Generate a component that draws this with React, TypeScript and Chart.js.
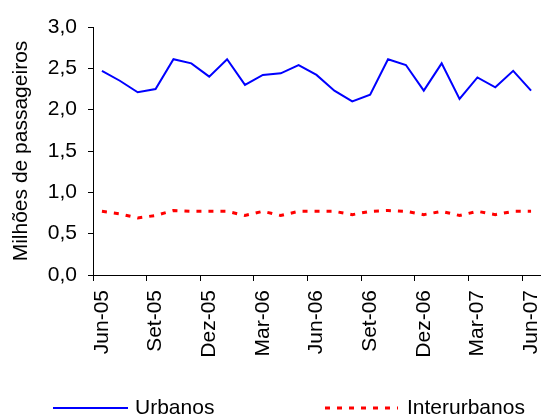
import React, { useEffect, useRef } from "react";
import { Chart, registerables } from "chart.js";

Chart.register(...registerables);

// Monthly periods, June 2005 – June 2007
const months = [
  "Jun-05", "Jul-05", "Ago-05", "Set-05", "Out-05", "Nov-05", "Dez-05",
  "Jan-06", "Fev-06", "Mar-06", "Abr-06", "Mai-06", "Jun-06", "Jul-06",
  "Ago-06", "Set-06", "Out-06", "Nov-06", "Dez-06", "Jan-07", "Fev-07",
  "Mar-07", "Abr-07", "Mai-07", "Jun-07",
];

// Passengers (millions)
const urbanos = [
  2.47, 2.35, 2.21, 2.25, 2.61, 2.56, 2.40, 2.61, 2.30, 2.42, 2.44, 2.54, 2.42,
  2.23, 2.10, 2.18, 2.61, 2.54, 2.23, 2.56, 2.13, 2.39, 2.27, 2.47, 2.23,
];
const interurbanos = [
  0.77, 0.74, 0.69, 0.72, 0.78, 0.77, 0.77, 0.77, 0.72, 0.77, 0.72, 0.77, 0.77,
  0.77, 0.73, 0.77, 0.78, 0.77, 0.73, 0.77, 0.72, 0.77, 0.73, 0.77, 0.77,
];

const yTicks = [0, 0.5, 1, 1.5, 2, 2.5, 3];

const FONT = "'Liberation Sans', Arial, sans-serif";
const FONT_SIZE = 21;

// Legend drawn below the axis: a line sample followed by the series name
const legendPlugin = {
  id: "bottomLegend",
  afterDraw(chart: any) {
    const ctx = chart.ctx;
    const y = 408;
    const slots = [
      { x0: 53, x1: 128, tx: 135 },
      { x0: 325, x1: 398, tx: 407 },
    ];
    chart.data.datasets.forEach((ds: any, i: number) => {
      const s = slots[i];
      ctx.save();
      ctx.strokeStyle = ds.borderColor;
      ctx.lineWidth = ds.borderWidth;
      ctx.setLineDash(ds.borderDash || []);
      ctx.beginPath();
      ctx.moveTo(s.x0, y);
      ctx.lineTo(s.x1, y);
      ctx.stroke();
      ctx.setLineDash([]);
      ctx.fillStyle = "#000";
      ctx.font = `${FONT_SIZE}px ${FONT}`;
      ctx.textAlign = "left";
      ctx.textBaseline = "middle";
      ctx.fillText(ds.label, s.tx, y);
      ctx.restore();
    });
  },
};

export default function App() {
  const canvasRef = useRef<HTMLCanvasElement | null>(null);

  useEffect(() => {
    if (!canvasRef.current) return;
    const chart = new Chart(canvasRef.current, {
      type: "line",
      data: {
        labels: months,
        datasets: [
          {
            label: "Urbanos",
            data: urbanos,
            borderColor: "#0000FF",
            borderWidth: 2,
            pointRadius: 0,
            tension: 0,
            fill: false,
          },
          {
            label: "Interurbanos",
            data: interurbanos,
            borderColor: "#FF0000",
            borderWidth: 3,
            borderDash: [5, 7],
            pointRadius: 0,
            tension: 0,
            fill: false,
          },
        ],
      },
      options: {
        responsive: false,
        animation: false,
        layout: { padding: { top: 27, right: 1, bottom: 40, left: 0 } },
        plugins: {
          legend: { display: false },
          tooltip: { enabled: false },
        },
        scales: {
          x: {
            type: "category",
            offset: true,
            afterFit: (scale: any) => {
              scale.height = 100;
              scale.paddingLeft = 0;
              scale.paddingRight = 0;
            },
            grid: {
              offset: true,
              drawOnChartArea: false,
              drawTicks: true,
              tickLength: 6,
              tickColor: (c: any) =>
                typeof c.index === "number" && c.index % 3 === 0 ? "#000" : "rgba(0,0,0,0)",
            },
            border: { display: true, color: "#000", width: 1 },
            ticks: {
              autoSkip: false,
              minRotation: 90,
              maxRotation: 90,
              padding: 9,
              color: "#000",
              font: { family: FONT, size: FONT_SIZE },
              callback: (_v: any, i: number) => (i % 3 === 0 ? months[i] : ""),
            },
          },
          y: {
            min: 0,
            max: 3,
            afterFit: (scale: any) => {
              scale.width = 93;
            },
            afterBuildTicks: (scale: any) => {
              scale.ticks = yTicks.map((v) => ({ value: v }));
            },
            grid: {
              drawOnChartArea: false,
              drawTicks: true,
              tickLength: 5,
              tickColor: "#000",
            },
            border: { display: true, color: "#000", width: 1 },
            ticks: {
              padding: 11,
              color: "#000",
              font: { family: FONT, size: FONT_SIZE },
              callback: (v: any) => Number(v).toFixed(1).replace(".", ","),
            },
            title: {
              display: true,
              text: "Milhões de passageiros",
              color: "#000",
              font: { family: FONT, size: FONT_SIZE },
              padding: { top: 9, bottom: 0 },
            },
          },
        },
      },
      plugins: [legendPlugin],
    });
    return () => chart.destroy();
  }, []);

  return (
    <div style={{ position: "fixed", left: 0, top: 0, width: 541, height: 415, background: "#fff" }}>
      <canvas ref={canvasRef} width={541} height={415} style={{ display: "block" }} />
    </div>
  );
}
